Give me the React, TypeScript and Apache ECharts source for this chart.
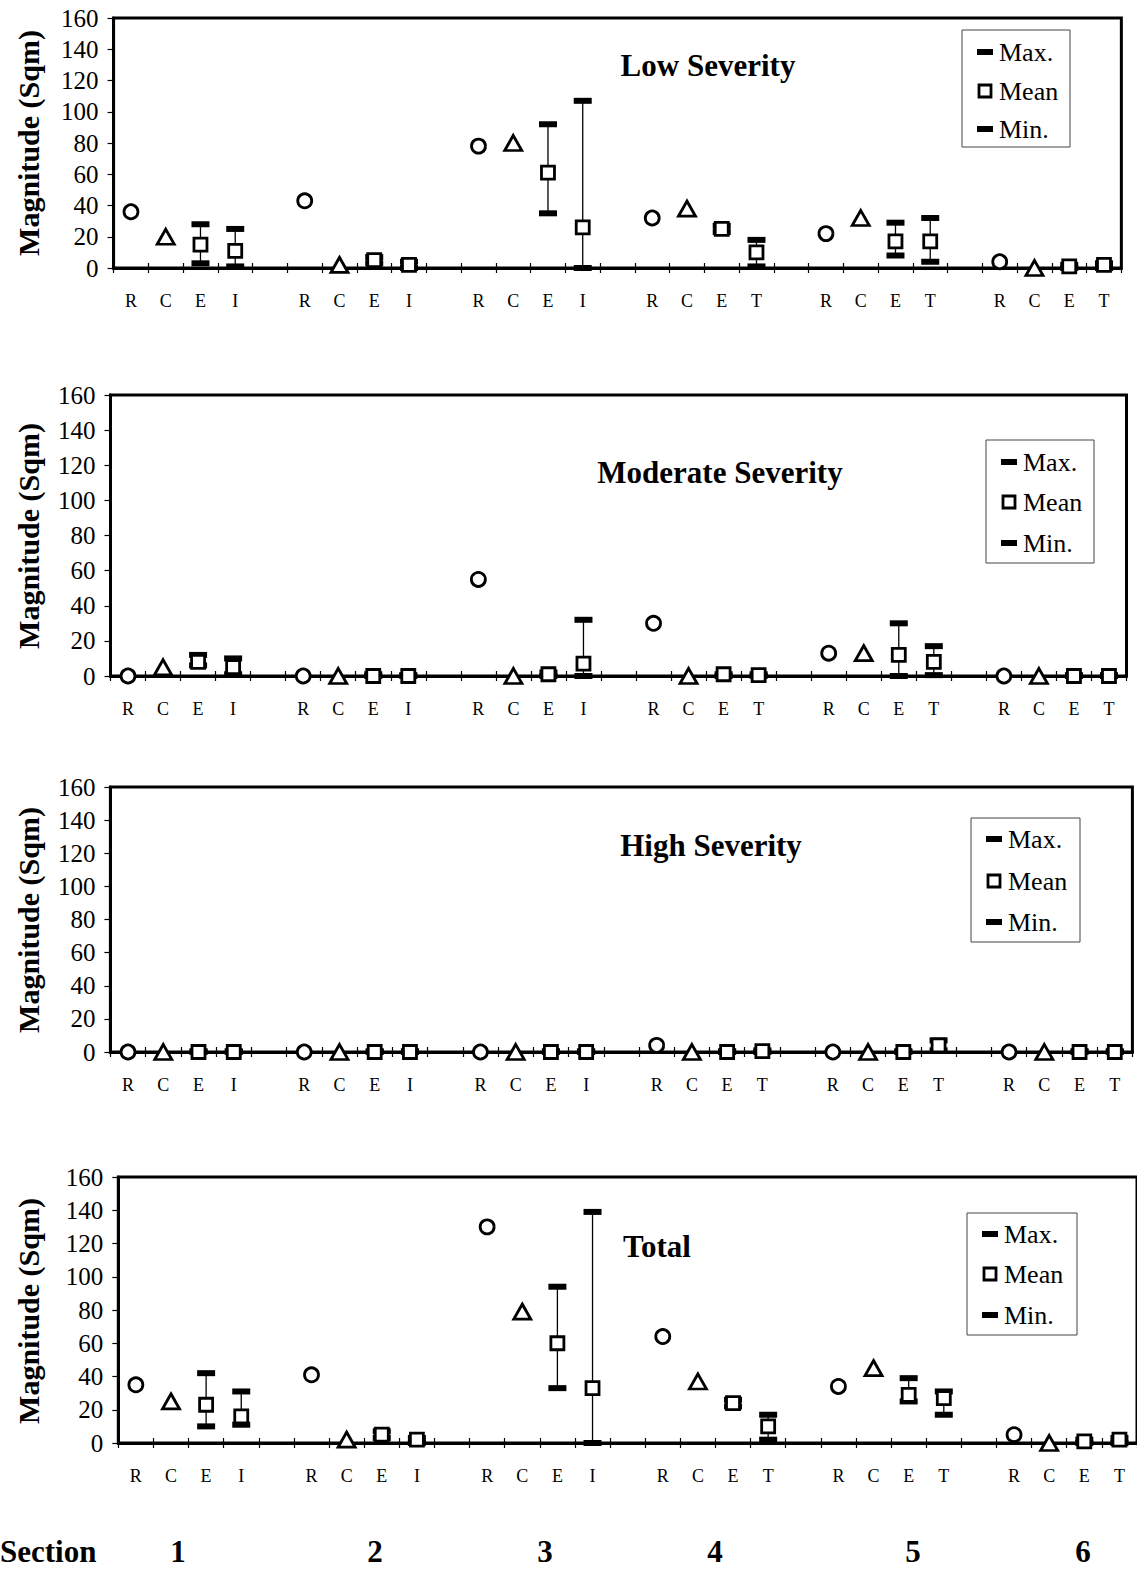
import React, { useEffect, useRef } from 'react';
import * as echarts from 'echarts';

// ---------- data ----------
const CATEGORIES = [
  'R', 'C', 'E', 'I', ' ',
  'R', 'C', 'E', 'I', '  ',
  'R', 'C', 'E', 'I', '   ',
  'R', 'C', 'E', 'T', '    ',
  'R', 'C', 'E', 'T', '     ',
  'R', 'C', 'E', 'T',
];
const SECTION_LABELS = ['1', '2', '3', '4', '5', '6'];
const LEGEND_LABELS = ['Max.', 'Mean', 'Min.'];
const PANEL_TITLES = ['Low Severity', 'Moderate Severity', 'High Severity', 'Total'];
const Y_TITLE = 'Magnitude (Sqm)';

// per section 1..6
const LOW_R = [36, 43, 78, 32, 22, 4];
const LOW_C = [20, 2, 80, 38, 32, 0];
const LOW_E_MEAN = [15, 5, 61, 25, 17, 1];
const LOW_E_MAX = [28, 7, 92, 27, 29, 2];
const LOW_E_MIN = [3, 3, 35, 23, 8, 0];
const LOW_IT_MEAN = [11, 2, 26, 10, 17, 2];
const LOW_IT_MAX = [25, 4, 107, 18, 32, 3];
const LOW_IT_MIN = [1, 0, 0, 1, 4, 0];

const MOD_R = [0, 0, 55, 30, 13, 0];
const MOD_C = [5, 0, 0, 0, 13, 0];
const MOD_E_MEAN = [8, 0, 1, 1, 12, 0];
const MOD_E_MAX = [12, 1, 2, 1, 30, 0.5];
const MOD_E_MIN = [6, 0, 0, 0, 0, 0];
const MOD_IT_MEAN = [5, 0, 7, 0.5, 8, 0];
const MOD_IT_MAX = [10, 0.5, 32, 1, 17, 0.5];
const MOD_IT_MIN = [1, 0, 0, 0, 0.5, 0];

const HIGH_R = [0, 0, 0, 4, 0, 0];
const HIGH_C = [0, 0, 0, 0, 0, 0];
const HIGH_E_MEAN = [0, 0, 0, 0, 0, 0];
const HIGH_E_MAX = [0.5, 0.5, 0.5, 0.5, 0.5, 0.5];
const HIGH_E_MIN = [0, 0, 0, 0, 0, 0];
const HIGH_IT_MEAN = [0, 0, 0, 0.5, 4, 0];
const HIGH_IT_MAX = [0.5, 0.5, 0.5, 1, 7, 0.5];
const HIGH_IT_MIN = [0, 0, 0, 0, 1, 0];

const TOT_R = [35, 41, 130, 64, 34, 5];
const TOT_C = [25, 2, 79, 37, 45, 0];
const TOT_E_MEAN = [23, 5, 60, 24, 29, 1];
const TOT_E_MAX = [42, 7, 94, 26, 39, 2];
const TOT_E_MIN = [10, 3, 33, 22, 25, 0];
const TOT_IT_MEAN = [16, 2, 33, 10, 27, 2];
const TOT_IT_MAX = [31, 3, 139, 17, 31, 3];
const TOT_IT_MIN = [11, 0, 0, 2, 17, 0];

const PANEL_DATA = [
  { r: LOW_R, c: LOW_C, eMean: LOW_E_MEAN, eMax: LOW_E_MAX, eMin: LOW_E_MIN, tMean: LOW_IT_MEAN, tMax: LOW_IT_MAX, tMin: LOW_IT_MIN },
  { r: MOD_R, c: MOD_C, eMean: MOD_E_MEAN, eMax: MOD_E_MAX, eMin: MOD_E_MIN, tMean: MOD_IT_MEAN, tMax: MOD_IT_MAX, tMin: MOD_IT_MIN },
  { r: HIGH_R, c: HIGH_C, eMean: HIGH_E_MEAN, eMax: HIGH_E_MAX, eMin: HIGH_E_MIN, tMean: HIGH_IT_MEAN, tMax: HIGH_IT_MAX, tMin: HIGH_IT_MIN },
  { r: TOT_R, c: TOT_C, eMean: TOT_E_MEAN, eMax: TOT_E_MAX, eMin: TOT_E_MIN, tMean: TOT_IT_MEAN, tMax: TOT_IT_MAX, tMin: TOT_IT_MIN },
];

// ---------- layout ----------
const LAYOUT = [
  { left: 113.6, top: 18, width: 1007.75, height: 250, title: [708, 65], yTitle: 143, legend: { x: 962, y: 30, w: 108, h: 117, rows: [52, 91, 129] } },
  { left: 110.5, top: 395, width: 1016, height: 281, title: [720, 472], yTitle: 536, legend: { x: 986, y: 440, w: 108, h: 123, rows: [462, 502, 543] } },
  { left: 110.4, top: 787, width: 1022, height: 265, title: [711, 845], yTitle: 920, legend: { x: 971, y: 818, w: 109, h: 124, rows: [839, 881, 922] } },
  { left: 118.3, top: 1177, width: 1026.6, height: 266, title: [657, 1246], yTitle: 1311, legend: { x: 967, y: 1213, w: 110, h: 122, rows: [1234, 1274, 1315] } },
];
const SECTION_X = [178, 375, 545, 715, 913, 1083];
const SECTION_Y = 1551;

const FONT = '"Liberation Serif", "Times New Roman", serif';

function sectionIndex(s: number, k: number) {
  return s * 5 + k;
}

export default function App() {
  const ref = useRef<HTMLDivElement>(null);

  useEffect(() => {
    if (!ref.current) return;
    const chart = echarts.init(ref.current, null, { renderer: 'svg' });

    const grids: any[] = [];
    const xAxes: any[] = [];
    const tickAxes: any[] = [];
    const yAxes: any[] = [];
    const series: any[] = [];
    const graphics: any[] = [];

    const errRender = (params: any, api: any) => {
      const x = api.value(0);
      const lo = api.coord([x, api.value(1)]);
      const hi = api.coord([x, api.value(2)]);
      return {
        type: 'group',
        children: [
          { type: 'line', shape: { x1: lo[0], y1: lo[1], x2: hi[0], y2: hi[1] }, style: { stroke: '#000', lineWidth: 1.3 } },
          { type: 'rect', shape: { x: hi[0] - 9, y: hi[1] - 3, width: 18, height: 6 }, style: { fill: '#000' } },
          { type: 'rect', shape: { x: lo[0] - 9, y: lo[1] - 3, width: 18, height: 6 }, style: { fill: '#000' } },
        ],
      };
    };

    const markerStyle = { color: '#fff', borderColor: '#000', borderWidth: 2.8, opacity: 1 };

    LAYOUT.forEach((L, p) => {
      const d = PANEL_DATA[p];
      grids.push({
        left: L.left, top: L.top, width: L.width, height: L.height,
        show: true, borderColor: '#000', borderWidth: 3, backgroundColor: 'transparent',
      });
      xAxes.push({
        type: 'category', gridIndex: p, data: CATEGORIES, position: 'bottom', boundaryGap: true,
        axisLine: { show: true, onZero: false, lineStyle: { color: '#000', width: 3 } },
        axisTick: { show: true, interval: 0, length: 5, lineStyle: { color: '#000', width: 1.2 } },
        axisLabel: { show: true, interval: 0, margin: 24, color: '#000', fontFamily: FONT, fontSize: 18 },
        splitLine: { show: false },
      });
      tickAxes.push({
        type: 'category', gridIndex: p, data: CATEGORIES, position: 'bottom', boundaryGap: true,
        axisLine: { show: false },
        axisTick: { show: true, inside: true, interval: 0, length: 5, lineStyle: { color: '#000', width: 1.2 } },
        axisLabel: { show: false },
        splitLine: { show: false },
      });
      yAxes.push({
        type: 'value', gridIndex: p, min: 0, max: 160, interval: 20,
        axisLine: { show: true, lineStyle: { color: '#000', width: 3 } },
        axisTick: { show: true, length: 6, lineStyle: { color: '#000', width: 1.2 } },
        axisLabel: { show: true, margin: 15, color: '#000', fontFamily: FONT, fontSize: 25 },
        splitLine: { show: false },
      });

      const rData = d.r.map((v, s) => [sectionIndex(s, 0), v]);
      const cData = d.c.map((v, s) => [sectionIndex(s, 1), v]);
      const meanData = [
        ...d.eMean.map((v, s) => [sectionIndex(s, 2), v]),
        ...d.tMean.map((v, s) => [sectionIndex(s, 3), v]),
      ];
      const errData = [
        ...d.eMin.map((v, s) => [sectionIndex(s, 2), v, d.eMax[s]]),
        ...d.tMin.map((v, s) => [sectionIndex(s, 3), v, d.tMax[s]]),
      ];

      series.push({
        type: 'custom', name: 'Max./Min.', xAxisIndex: p, yAxisIndex: p, renderItem: errRender,
        encode: { x: 0, y: [1, 2] }, data: errData, z: 2, clip: false,
      });
      series.push({
        type: 'scatter', name: 'R', xAxisIndex: p, yAxisIndex: p, data: rData, symbol: 'circle', symbolSize: 14,
        itemStyle: markerStyle, z: 3, clip: false,
      });
      series.push({
        type: 'scatter', name: 'C', xAxisIndex: p, yAxisIndex: p, data: cData, symbol: 'triangle', symbolSize: [17, 15],
        itemStyle: markerStyle, z: 3, clip: false,
      });
      series.push({
        type: 'scatter', name: 'Mean', xAxisIndex: p, yAxisIndex: p, data: meanData, symbol: 'rect', symbolSize: 13,
        itemStyle: markerStyle, z: 4, clip: false,
      });

      // titles
      graphics.push({
        type: 'text', x: L.title[0], y: L.title[1], z: 10,
        style: { text: PANEL_TITLES[p], fill: '#000', font: `bold 31px ${FONT}`, align: 'center', verticalAlign: 'middle' },
      });
      graphics.push({
        type: 'text', x: 28, y: L.yTitle, rotation: Math.PI / 2, z: 10,
        style: { text: Y_TITLE, fill: '#000', font: `bold 30px ${FONT}`, align: 'center', verticalAlign: 'middle' },
      });
      // legend
      const lg = L.legend;
      graphics.push({
        type: 'rect', z: 10,
        shape: { x: lg.x, y: lg.y, width: lg.w, height: lg.h },
        style: { fill: '#fff', stroke: '#444', lineWidth: 1 },
      });
      lg.rows.forEach((ry, i) => {
        if (i === 1) {
          graphics.push({
            type: 'rect', z: 11,
            shape: { x: lg.x + 17, y: ry - 6, width: 12, height: 12 },
            style: { fill: '#fff', stroke: '#000', lineWidth: 2.8 },
          });
        } else {
          graphics.push({
            type: 'rect', z: 11,
            shape: { x: lg.x + 15, y: ry - 3, width: 16, height: 6 },
            style: { fill: '#000' },
          });
        }
        graphics.push({
          type: 'text', x: lg.x + 37, y: ry, z: 11,
          style: { text: LEGEND_LABELS[i], fill: '#000', font: `26px ${FONT}`, align: 'left', verticalAlign: 'middle' },
        });
      });
    });

    graphics.push({
      type: 'text', x: 0, y: SECTION_Y, z: 10,
      style: { text: 'Section', fill: '#000', font: `bold 31px ${FONT}`, align: 'left', verticalAlign: 'middle' },
    });
    SECTION_LABELS.forEach((t, i) => {
      graphics.push({
        type: 'text', x: SECTION_X[i], y: SECTION_Y, z: 10,
        style: { text: t, fill: '#000', font: `bold 31px ${FONT}`, align: 'center', verticalAlign: 'middle' },
      });
    });

    chart.setOption({
      animation: false,
      backgroundColor: '#fff',
      grid: grids,
      xAxis: [...xAxes, ...tickAxes],
      yAxis: yAxes,
      series,
      graphic: graphics,
    });

    return () => chart.dispose();
  }, []);

  return (
    <div
      ref={ref}
      style={{ position: 'fixed', left: 0, top: 0, width: 1137, height: 1571, background: '#fff' }}
    />
  );
}
